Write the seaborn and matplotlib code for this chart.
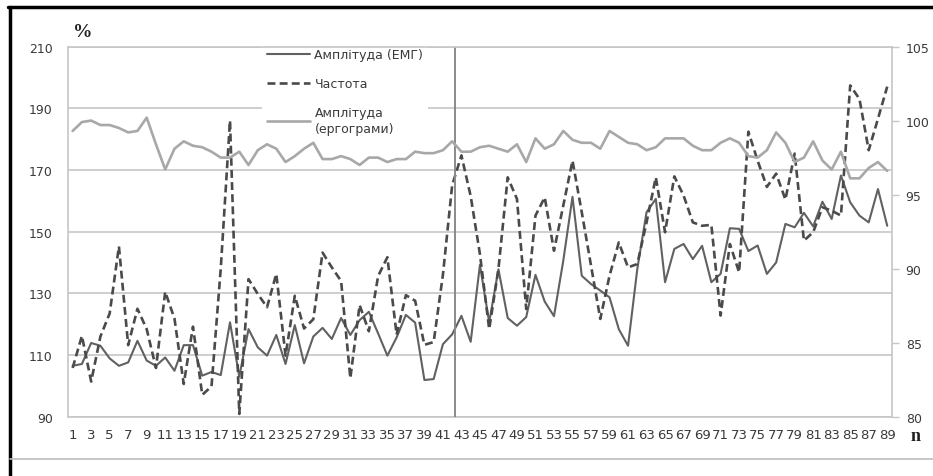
import matplotlib
matplotlib.use("Agg")
import matplotlib.pyplot as plt
from matplotlib.lines import Line2D
import seaborn as sns
import numpy as np
import pandas as pd

# measurement number
n = list(range(1, 90))

# EMG amplitude, % (left axis)
emg = [106.5, 107.1, 113.9, 113.0, 108.9, 106.5, 107.6, 114.6, 108.2, 106.5,
       109.2, 104.9, 113.2, 113.2, 103.3, 104.5, 103.5, 120.6, 103.0, 118.4,
       112.5, 109.8, 116.5, 107.1, 119.7, 107.3, 116.0, 118.8, 115.2, 122.0,
       116.5, 121.3, 124.0, 117.0, 109.8, 115.7, 123.0, 120.5, 101.9, 102.2,
       113.5, 116.7, 122.7, 114.3, 139.2, 120.6, 137.8, 122.0, 119.5, 122.3,
       136.0, 127.3, 122.6, 140.5, 161.3, 135.7, 133.0, 130.9, 128.7, 118.4,
       113.0, 137.9, 156.3, 160.6, 133.6, 144.4, 146.0, 141.1, 145.4, 133.6,
       136.3, 151.1, 150.9, 143.7, 145.5, 136.3, 140.0, 152.5, 151.4, 156.1,
       151.7, 159.7, 154.1, 168.2, 159.5, 155.2, 153.0, 163.8, 151.9]

# frequency, % (left axis)
freq = [105.8, 116.2, 101.4, 116.0, 123.5, 145.2, 113.2, 125.0, 118.4, 105.8,
        130.5, 121.8, 100.6, 119.2, 97.1, 99.8, 138.0, 186.0, 90.9, 134.6,
        129.8, 125.5, 136.3, 109.8, 129.2, 118.6, 121.6, 143.2, 138.4, 134.0,
        102.5, 126.2, 117.7, 135.6, 141.7, 116.6, 129.4, 127.6, 113.3, 114.2,
        136.0, 165.0, 174.7, 161.5, 142.7, 118.4, 137.9, 167.6, 160.6, 124.9,
        155.2, 161.1, 143.8, 158.4, 173.0, 156.3, 139.0, 121.7, 135.7, 146.5,
        138.4, 139.5, 153.0, 167.6, 149.8, 167.9, 161.7, 153.0, 151.9, 152.2,
        122.8, 146.0, 136.8, 182.4, 173.0, 164.5, 168.8, 160.4, 175.3, 147.1,
        149.8, 157.9, 156.8, 155.2, 197.4, 193.0, 176.4, 186.6, 197.0]

# ergogram amplitude, % (right axis)
ergo = [99.3, 99.9, 100.0, 99.7, 99.7, 99.5, 99.2, 99.3, 100.2, 98.4,
        96.7, 98.1, 98.6, 98.3, 98.2, 97.9, 97.5, 97.5, 97.9, 97.0,
        98.0, 98.4, 98.1, 97.2, 97.6, 98.1, 98.5, 97.4, 97.4, 97.6,
        97.4, 97.0, 97.5, 97.5, 97.2, 97.4, 97.4, 97.9, 97.8, 97.8,
        98.0, 98.6, 97.9, 97.9, 98.2, 98.3, 98.1, 97.9, 98.4, 97.2,
        98.8, 98.1, 98.4, 99.3, 98.7, 98.5, 98.5, 98.1, 99.3, 98.9,
        98.5, 98.4, 98.0, 98.2, 98.8, 98.8, 98.8, 98.3, 98.0, 98.0,
        98.5, 98.8, 98.5, 97.6, 97.5, 98.0, 99.2, 98.5, 97.2, 97.5,
        98.6, 97.3, 96.7, 97.9, 96.1, 96.1, 96.8, 97.2, 96.6]

labels = ["Амплітуда (ЕМГ)", "Частота", "Амплітуда\n(ергограми)"]
split_at = 42.3  # vertical separator between the two phases

df = pd.DataFrame({"n": n, "emg": emg, "freq": freq, "ergo": ergo})

sns.set_theme(style="white")
plt.rcParams["font.family"] = ["DejaVu Sans"]

c_emg = "#616161"
c_freq = "#4a4a4a"
c_ergo = "#a8a8a8"
c_grid = "#c6c6c6"
c_text = "#3a3a3a"

fig = plt.figure(figsize=(9.33, 4.77), dpi=100)
ax = fig.add_axes([0.0729, 0.1243, 0.883, 0.776])
ax2 = ax.twinx()

sns.lineplot(data=df, x="n", y="emg", ax=ax, color=c_emg, lw=1.5, legend=False)
sns.lineplot(data=df, x="n", y="freq", ax=ax, color=c_freq, lw=1.9,
             linestyle=(0, (3, 1.6)), legend=False)
sns.lineplot(data=df, x="n", y="ergo", ax=ax2, color=c_ergo, lw=1.9, legend=False)
ax.axvline(split_at, color="#8a8a8a", lw=1.4, zorder=3)

ax.set_xlim(0.5, 89.5)
ax.set_ylim(90, 210)
ax2.set_ylim(80, 105)
ax.set_yticks(range(90, 211, 20))
ax2.set_yticks(range(80, 106, 5))
ax.set_xticks(n[::2])
ax.set_xticks(np.arange(0.5, 90, 1), minor=True)
ax.set_xlabel("")
ax.set_ylabel("")
ax2.set_ylabel("")

ax.grid(axis="y", color=c_grid, lw=1.2)
ax.set_axisbelow(True)

for a in (ax, ax2):
    for s in a.spines.values():
        s.set_color(c_grid)
        s.set_linewidth(1.2)
ax.spines["top"].set_visible(False)
ax.spines["right"].set_visible(False)
ax2.spines["left"].set_visible(False)
ax2.spines["bottom"].set_visible(False)

ax.tick_params(axis="x", which="major", length=0, pad=8, labelsize=9.5, labelcolor=c_text)
ax.tick_params(axis="x", which="minor", length=4, width=1, color=c_grid, direction="out")
ax.tick_params(axis="y", length=0, pad=11, labelsize=9, labelcolor=c_text)
ax2.tick_params(axis="y", length=5, width=1, color=c_grid, pad=5,
                labelsize=9, labelcolor=c_text, direction="out")

handles = [
    Line2D([], [], color=c_emg, lw=1.5),
    Line2D([], [], color=c_freq, lw=1.9, linestyle=(0, (3, 1.6))),
    Line2D([], [], color=c_ergo, lw=1.9),
]
leg = ax.legend(handles, labels, loc="upper left",
                bbox_to_anchor=(262 / 933, 1 - 44 / 477), bbox_transform=fig.transFigure,
                borderaxespad=0, frameon=True, fancybox=False, framealpha=1,
                edgecolor="none", facecolor="white", fontsize=9,
                handlelength=3.4, handletextpad=0.4, labelspacing=1.3, borderpad=0.4)
for t in leg.get_texts():
    t.set_color(c_text)

fig.text(0.078, 0.931, "%", fontsize=14, fontweight="bold",
         family="Liberation Serif", color="#222222", ha="left", va="center")
fig.text(0.976, 0.084, "n", fontsize=13, fontweight="bold",
         family="Liberation Serif", color="#222222", ha="left", va="center")

# outer frame of the original picture
fig.add_artist(Line2D([0.009, 1.0], [0.983, 0.983], color="black", lw=2.5))
fig.add_artist(Line2D([0.0105, 0.0105], [0.0, 0.983], color="black", lw=2.5))
fig.add_artist(Line2D([0.0105, 1.0], [0.0356, 0.0356], color="#bdbdbd", lw=1.2))

fig.savefig("out.png", dpi=100)
